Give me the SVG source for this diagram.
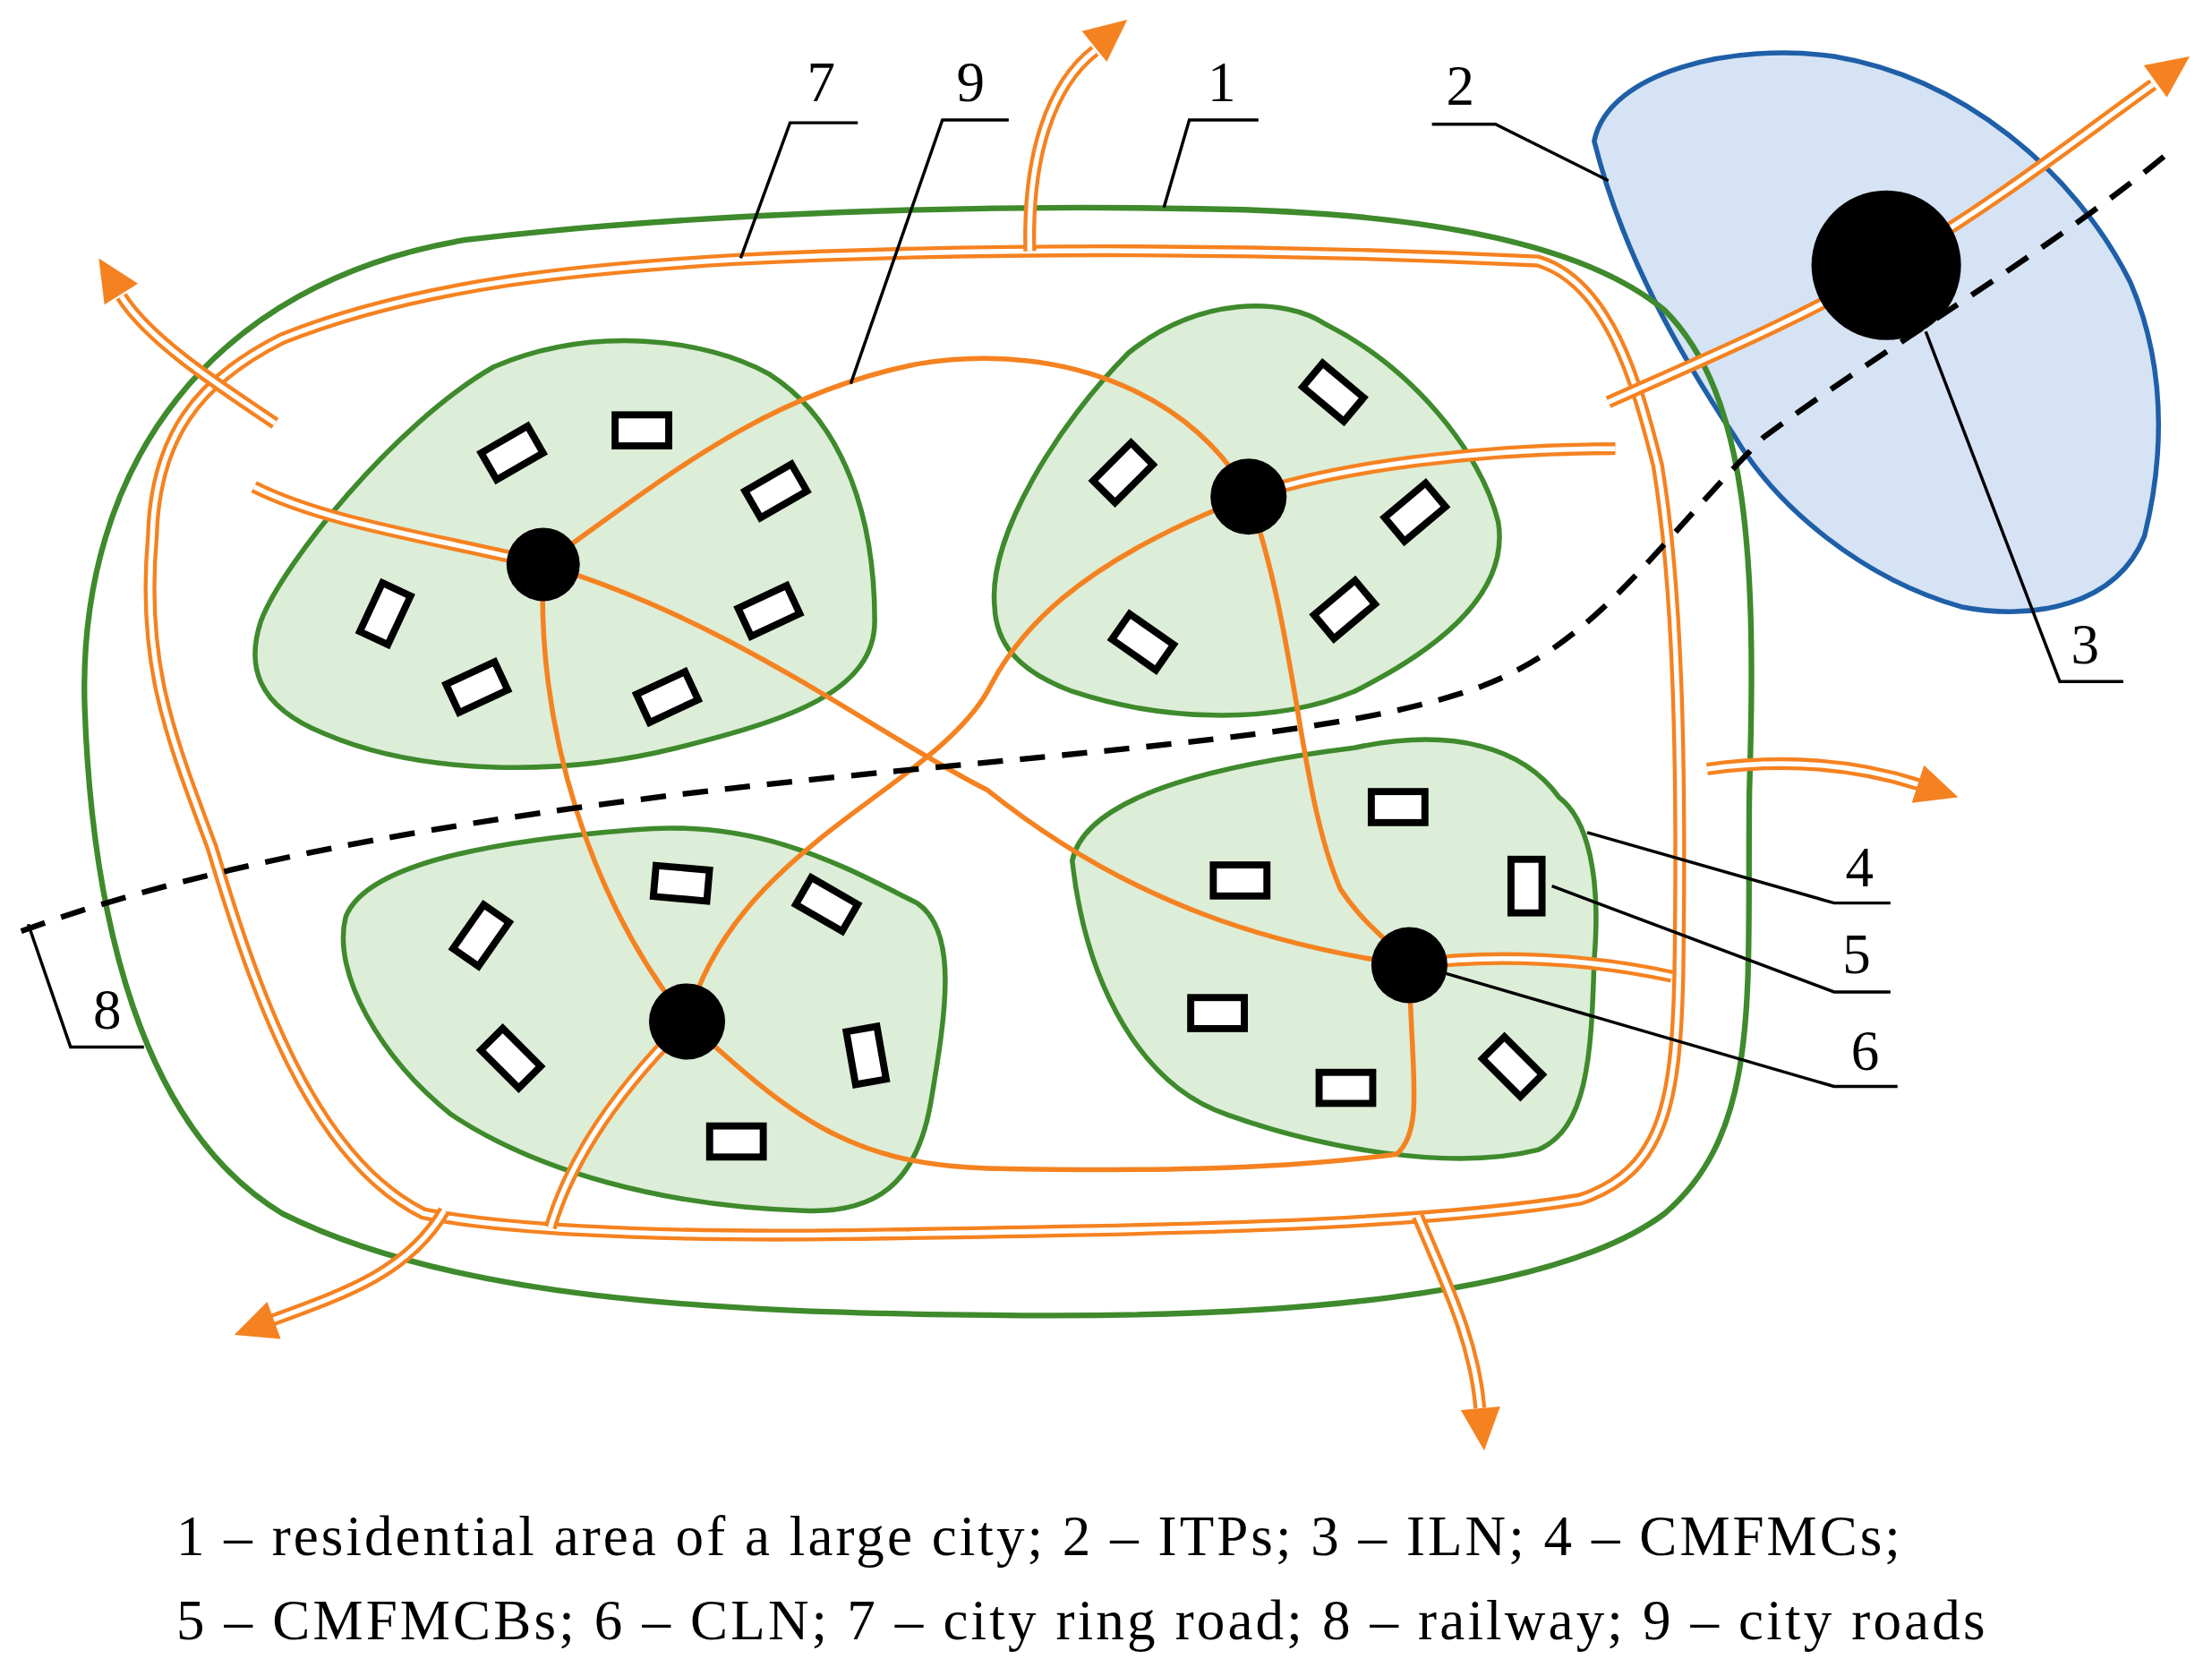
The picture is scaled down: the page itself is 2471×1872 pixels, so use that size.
<svg xmlns="http://www.w3.org/2000/svg" width="2471" height="1872" viewBox="0 0 2471 1872">
<style>
.rd2o{fill:none;stroke:#f58220;stroke-width:9;stroke-linecap:butt;stroke-linejoin:round}
.rd2i{fill:none;stroke:#fff;stroke-width:3.5;stroke-linecap:butt;stroke-linejoin:round}
.rd1{fill:none;stroke:#f58220;stroke-width:3.5;stroke-linecap:round}
.cl{fill:#dcedd8;stroke:#3e8a2c;stroke-width:3.5}
.b{fill:#fff;stroke:#000;stroke-width:5}
.ld{fill:none;stroke:#000;stroke-width:2.2}
.t{font-family:"Liberation Serif",serif;font-size:40px;fill:#000}
.c{font-family:"Liberation Serif",serif;font-size:40px;fill:#000}
</style>
<defs>
<path id="ah" d="M0,0 L-30,-14 L-30,14 Z" fill="#f58220"/>
<rect id="r" x="-19" y="-11" width="38" height="22"/>
</defs>
<rect width="2471" height="1872" fill="#fff"/>
<g transform="scale(1.576)">
<g id="n2"><path d="M1130,100 C1140,50 1230,30 1300,40 C1390,55 1470,120 1510,200 C1540,270 1530,340 1520,380 C1500,430 1440,440 1390,430 C1320,410 1260,360 1230,310 C1190,250 1150,180 1130,100 Z" fill="#d5e3f5" stroke="#1f5fa8" stroke-width="3.5"/></g>
<g id="n1"><path d="M60,500 C55,330 150,200 330,170 C500,150 700,145 850,148 C1000,150 1120,170 1180,220 C1240,280 1245,400 1240,560 C1238,700 1250,800 1180,860 C1100,920 900,935 700,932 C500,930 320,920 200,860 C100,800 65,650 60,500 Z" fill="none" stroke="#3e8a2c" stroke-width="4"/></g>
<g id="clusters">
<path class="cl" d="M185,440 C200,400 280,300 350,260 C420,230 500,240 545,265 C600,300 620,370 620,440 C620,490 560,510 480,530 C400,550 300,550 230,520 C180,500 175,470 185,440 Z"/>
<path class="cl" d="M705,430 C700,380 750,300 800,250 C850,210 910,210 940,230 C1000,260 1050,320 1062,370 C1070,420 1020,460 960,490 C900,515 820,510 760,490 C720,475 706,455 705,430 Z"/>
<path class="cl" d="M245,650 C260,610 360,595 450,588 C540,580 600,615 650,640 C680,660 670,720 660,780 C650,840 620,860 570,858 C470,855 380,830 320,790 C270,750 235,690 245,650 Z"/>
<path class="cl" d="M760,610 C770,560 880,540 960,530 C1030,515 1080,530 1105,565 C1125,580 1135,620 1130,680 C1128,750 1125,800 1090,815 C1030,830 940,815 870,790 C810,770 770,700 760,610 Z"/>
</g>
<g id="connectors">
<path class="rd2o" d="M200,240 C300,200 420,190 520,184 C700,175 900,176 1090,185 C1140,200 1160,270 1175,330 C1190,420 1192,550 1190,690 C1188,780 1180,830 1120,850 C1000,870 800,872 600,875 C450,877 350,870 300,860 C220,820 180,700 150,600 C120,520 100,470 108,380 C110,310 140,270 200,240 Z"/>
<path class="rd2i" d="M200,240 C300,200 420,190 520,184 C700,175 900,176 1090,185 C1140,200 1160,270 1175,330 C1190,420 1192,550 1190,690 C1188,780 1180,830 1120,850 C1000,870 800,872 600,875 C450,877 350,870 300,860 C220,820 180,700 150,600 C120,520 100,470 108,380 C110,310 140,270 200,240 Z"/>
<g>
<path class="rd2o" d="M730,178 C728,110 745,60 776,36"/>
<path class="rd2o" d="M195,300 C150,270 105,240 86,210"/>
<path class="rd2o" d="M1140,285 C1200,258 1280,225 1340,188 C1420,140 1470,100 1526,60"/>
<path class="rd2o" d="M1210,545 C1260,538 1310,540 1360,556"/>
<path class="rd2o" d="M315,858 C290,900 250,915 192,936"/>
<path class="rd2o" d="M1005,862 C1025,910 1045,950 1049,998"/>
<path class="rd2i" d="M730,178 C728,110 745,60 776,36"/>
<path class="rd2i" d="M195,300 C150,270 105,240 86,210"/>
<path class="rd2i" d="M1140,285 C1200,258 1280,225 1340,188 C1420,140 1470,100 1526,60"/>
<path class="rd2i" d="M1210,545 C1260,538 1310,540 1360,556"/>
<path class="rd2i" d="M315,858 C290,900 250,915 192,936"/>
<path class="rd2i" d="M1005,862 C1025,910 1045,950 1049,998"/>
<use href="#ah" transform="translate(799,14) rotate(-39)"/>
<use href="#ah" transform="translate(70,183) rotate(-122)"/>
<use href="#ah" transform="translate(1552,40) rotate(-36)"/>
<use href="#ah" transform="translate(1388,565) rotate(18)"/>
<use href="#ah" transform="translate(166,946) rotate(160)"/>
<use href="#ah" transform="translate(1052,1028) rotate(85)"/>
</g>
<path class="rd2o" d="M385,400 C300,380 230,370 180,345"/><path class="rd2i" d="M385,400 C300,380 230,370 180,345"/>
<path class="rd2o" d="M885,352 C950,330 1050,318 1145,318"/><path class="rd2i" d="M885,352 C950,330 1050,318 1145,318"/>
<path class="rd2o" d="M487,724 C440,770 405,820 390,870"/><path class="rd2i" d="M487,724 C440,770 405,820 390,870"/>
<path class="rd2o" d="M999,684 C1060,675 1130,680 1185,692"/><path class="rd2i" d="M999,684 C1060,675 1130,680 1185,692"/>
<path class="rd1" d="M385,400 C470,340 540,280 650,258 C760,240 850,285 885,352"/>
<path class="rd1" d="M385,400 C380,520 420,640 487,724"/>
<path class="rd1" d="M385,400 C520,440 620,520 700,560 C800,640 900,670 999,684"/>
<path class="rd1" d="M885,352 C760,400 720,450 700,490 C660,560 520,600 487,724"/>
<path class="rd1" d="M885,352 C920,450 920,560 950,630 C970,660 990,670 999,684"/>
<path class="rd1" d="M487,724 C560,790 600,825 700,828 C800,830 900,830 990,818 C1010,800 1000,760 999,684"/>
<path d="M15,660 C150,610 350,575 600,550 C800,530 950,520 1040,490 C1130,460 1170,390 1250,310 C1330,250 1450,180 1535,110" fill="none" stroke="#000" stroke-width="4" stroke-dasharray="18,12"/>
</g>
<g id="dots" fill="#000">
<circle cx="1337" cy="188" r="53"/><circle cx="385" cy="400" r="26"/><circle cx="885" cy="352" r="27"/><circle cx="487" cy="724" r="27"/><circle cx="999" cy="684" r="27"/>
</g>
<g id="buildings" class="b">
<use href="#r" transform="translate(363,321) rotate(-30)"/><use href="#r" transform="translate(455,305)"/><use href="#r" transform="translate(550,348) rotate(-30)"/><use href="#r" transform="translate(273,435) rotate(-65)"/><use href="#r" transform="translate(338,487) rotate(-25)"/><use href="#r" transform="translate(545,433) rotate(-25)"/><use href="#r" transform="translate(473,494) rotate(-25)"/>
<use href="#r" transform="translate(945,278) rotate(40)"/><use href="#r" transform="translate(796,335) rotate(-45)"/><use href="#r" transform="translate(1003,363) rotate(-40)"/><use href="#r" transform="translate(953,432) rotate(-40)"/><use href="#r" transform="translate(810,455) rotate(35)"/>
<use href="#r" transform="translate(341,663) rotate(-55)"/><use href="#r" transform="translate(483,626) rotate(5)"/><use href="#r" transform="translate(586,641) rotate(30)"/><use href="#r" transform="translate(362,750) rotate(45)"/><use href="#r" transform="translate(614,748) rotate(80)"/><use href="#r" transform="translate(522,809)"/>
<use href="#r" transform="translate(991,572)"/><use href="#r" transform="translate(879,624)"/><use href="#r" transform="translate(1082,628) rotate(90)"/><use href="#r" transform="translate(863,718)"/><use href="#r" transform="translate(954,771)"/><use href="#r" transform="translate(1072,756) rotate(45)"/>
</g>
<g id="leaders" class="ld">
<path d="M525,183 L560,87 L608,87"/><path d="M603,272 L668,85 L715,85"/><path d="M825,147 L843,85 L892,85"/><path d="M1140,128 L1060,88 L1015,88"/><path d="M1365,235 L1460,483 L1505,483"/><path d="M1125,590 L1300,640 L1340,640"/><path d="M1100,628 L1300,703 L1340,703"/><path d="M1025,690 L1300,770 L1345,770"/><path d="M20,655 L50,742 L102,742"/>
</g>
<g id="labels" class="t" text-anchor="middle">
<text x="582" y="72">7</text><text x="688" y="72">9</text><text x="866" y="72">1</text><text x="1035" y="74">2</text><text x="1478" y="470">3</text><text x="1318" y="628">4</text><text x="1316" y="690">5</text><text x="1322" y="758">6</text><text x="76" y="729">8</text>
</g>
<text class="c" x="125" y="1102" textLength="1222" lengthAdjust="spacing">1 – residential area of a large city; 2 – ITPs; 3 – ILN; 4 – CMFMCs;</text>
<text class="c" x="125" y="1162" textLength="1282" lengthAdjust="spacing">5 – CMFMCBs; 6 – CLN; 7 – city ring road; 8 – railway; 9 – city roads</text>
</g>
</svg>
